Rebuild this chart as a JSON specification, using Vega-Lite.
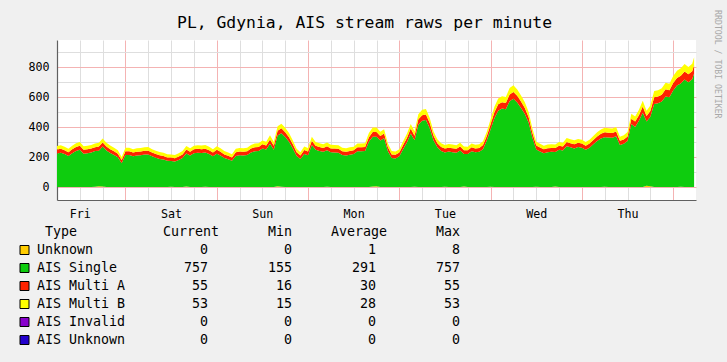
{
"$schema": "https://vega.github.io/schema/vega-lite/v6.json",
"background": "#F0F0F0",
"padding": {"left": 0, "top": 10, "right": 5, "bottom": 13},
"spacing": 2,
"title": {"text": "RRDTOOL / TOBI OETIKER", "orient": "right", "anchor": "start", "fontSize": 8.2, "font": "DejaVu Sans Mono", "fontWeight": "normal", "color": "#A8A8A8", "offset": 17, "dx": -5},
"datasets": {
"legend": [
{"key":"u","type":"Unknown","rank":1,"current":0,"min":0,"avg":1,"max":8},
{"key":"s","type":"AIS Single","rank":2,"current":757,"min":155,"avg":291,"max":757},
{"key":"a","type":"AIS Multi A","rank":3,"current":55,"min":16,"avg":30,"max":55},
{"key":"b","type":"AIS Multi B","rank":4,"current":53,"min":15,"avg":28,"max":53},
{"key":"i","type":"AIS Invalid","rank":5,"current":0,"min":0,"avg":0,"max":0},
{"key":"x","type":"AIS Unknown","rank":6,"current":0,"min":0,"avg":0,"max":0}
],
"headers": [
{"col":"name","label":"Type"},
{"col":"current","label":"Current"},
{"col":"min","label":"Min"},
{"col":"avg","label":"Average"},
{"col":"max","label":"Max"}
],
"series": [
{"t":6,"u":0,"s":223,"a":26,"b":24},
{"t":7,"u":0,"s":228,"a":26,"b":24},
{"t":8,"u":0,"s":219,"a":25,"b":24},
{"t":9,"u":0,"s":207,"a":25,"b":23},
{"t":10,"u":0,"s":225,"a":26,"b":24},
{"t":11,"u":0,"s":240,"a":27,"b":25},
{"t":12,"u":0,"s":248,"a":27,"b":25},
{"t":13,"u":0,"s":222,"a":26,"b":24},
{"t":14,"u":0,"s":225,"a":26,"b":24},
{"t":15,"u":0,"s":230,"a":26,"b":24},
{"t":16,"u":2,"s":237,"a":26,"b":25},
{"t":17,"u":4,"s":238,"a":27,"b":25},
{"t":18,"u":3,"s":266,"a":28,"b":26},
{"t":19,"u":0,"s":243,"a":27,"b":25},
{"t":20,"u":0,"s":226,"a":26,"b":24},
{"t":21,"u":0,"s":213,"a":25,"b":24},
{"t":22,"u":0,"s":198,"a":24,"b":23},
{"t":23,"u":0,"s":158,"a":22,"b":20},
{"t":24,"u":0,"s":213,"a":25,"b":24},
{"t":25,"u":0,"s":213,"a":25,"b":24},
{"t":26,"u":0,"s":204,"a":25,"b":23},
{"t":27,"u":0,"s":210,"a":25,"b":23},
{"t":28,"u":0,"s":212,"a":25,"b":23},
{"t":29,"u":0,"s":216,"a":25,"b":24},
{"t":30,"u":0,"s":217,"a":25,"b":24},
{"t":31,"u":0,"s":204,"a":25,"b":23},
{"t":32,"u":0,"s":195,"a":24,"b":23},
{"t":33,"u":0,"s":187,"a":24,"b":22},
{"t":34,"u":0,"s":183,"a":23,"b":22},
{"t":35,"u":0,"s":174,"a":23,"b":21},
{"t":36,"u":2,"s":171,"a":23,"b":21},
{"t":37,"u":0,"s":169,"a":23,"b":21},
{"t":38,"u":0,"s":180,"a":23,"b":22},
{"t":39,"u":0,"s":193,"a":24,"b":23},
{"t":40,"u":3,"s":220,"a":26,"b":24},
{"t":41,"u":0,"s":210,"a":25,"b":23},
{"t":42,"u":0,"s":225,"a":26,"b":24},
{"t":43,"u":0,"s":228,"a":26,"b":24},
{"t":44,"u":0,"s":226,"a":26,"b":24},
{"t":45,"u":1,"s":228,"a":26,"b":24},
{"t":46,"u":0,"s":219,"a":25,"b":24},
{"t":47,"u":0,"s":204,"a":25,"b":23},
{"t":48,"u":0,"s":222,"a":26,"b":24},
{"t":49,"u":0,"s":210,"a":25,"b":23},
{"t":50,"u":0,"s":193,"a":24,"b":23},
{"t":51,"u":0,"s":184,"a":24,"b":22},
{"t":52,"u":0,"s":174,"a":23,"b":21},
{"t":53,"u":0,"s":207,"a":25,"b":23},
{"t":54,"u":0,"s":212,"a":25,"b":23},
{"t":55,"u":0,"s":210,"a":25,"b":23},
{"t":56,"u":0,"s":213,"a":25,"b":24},
{"t":57,"u":0,"s":230,"a":26,"b":24},
{"t":58,"u":0,"s":238,"a":26,"b":25},
{"t":59,"u":0,"s":240,"a":27,"b":25},
{"t":60,"u":0,"s":256,"a":28,"b":26},
{"t":61,"u":0,"s":250,"a":27,"b":25},
{"t":62,"u":0,"s":288,"a":29,"b":28},
{"t":63,"u":0,"s":248,"a":27,"b":25},
{"t":64,"u":5,"s":338,"a":32,"b":30},
{"t":65,"u":2,"s":356,"a":33,"b":31},
{"t":66,"u":0,"s":333,"a":32,"b":30},
{"t":67,"u":0,"s":302,"a":30,"b":28},
{"t":68,"u":0,"s":256,"a":28,"b":26},
{"t":69,"u":0,"s":207,"a":25,"b":23},
{"t":70,"u":0,"s":186,"a":24,"b":22},
{"t":71,"u":0,"s":220,"a":26,"b":24},
{"t":72,"u":0,"s":212,"a":25,"b":23},
{"t":73,"u":0,"s":279,"a":29,"b":27},
{"t":74,"u":0,"s":248,"a":27,"b":25},
{"t":75,"u":0,"s":240,"a":27,"b":25},
{"t":76,"u":0,"s":234,"a":26,"b":25},
{"t":77,"u":1,"s":243,"a":27,"b":25},
{"t":78,"u":0,"s":231,"a":26,"b":25},
{"t":79,"u":0,"s":230,"a":26,"b":24},
{"t":80,"u":0,"s":228,"a":26,"b":24},
{"t":81,"u":0,"s":213,"a":25,"b":24},
{"t":82,"u":0,"s":210,"a":25,"b":23},
{"t":83,"u":0,"s":215,"a":25,"b":24},
{"t":84,"u":0,"s":219,"a":25,"b":24},
{"t":85,"u":0,"s":238,"a":26,"b":25},
{"t":86,"u":0,"s":238,"a":27,"b":25},
{"t":87,"u":0,"s":240,"a":27,"b":25},
{"t":88,"u":0,"s":302,"a":30,"b":28},
{"t":89,"u":3,"s":331,"a":32,"b":30},
{"t":90,"u":4,"s":331,"a":32,"b":30},
{"t":91,"u":0,"s":309,"a":30,"b":29},
{"t":92,"u":0,"s":325,"a":31,"b":29},
{"t":93,"u":0,"s":238,"a":26,"b":25},
{"t":94,"u":0,"s":193,"a":24,"b":23},
{"t":95,"u":0,"s":190,"a":24,"b":22},
{"t":96,"u":0,"s":204,"a":25,"b":23},
{"t":97,"u":0,"s":252,"a":27,"b":26},
{"t":98,"u":0,"s":297,"a":30,"b":28},
{"t":99,"u":0,"s":356,"a":33,"b":31},
{"t":100,"u":1,"s":310,"a":31,"b":29},
{"t":101,"u":0,"s":415,"a":36,"b":34},
{"t":102,"u":0,"s":441,"a":38,"b":36},
{"t":103,"u":0,"s":446,"a":38,"b":36},
{"t":104,"u":0,"s":392,"a":35,"b":33},
{"t":105,"u":0,"s":310,"a":31,"b":29},
{"t":106,"u":0,"s":264,"a":28,"b":26},
{"t":107,"u":0,"s":240,"a":27,"b":25},
{"t":108,"u":2,"s":228,"a":26,"b":24},
{"t":109,"u":0,"s":236,"a":26,"b":25},
{"t":110,"u":0,"s":232,"a":26,"b":25},
{"t":111,"u":0,"s":228,"a":26,"b":24},
{"t":112,"u":0,"s":243,"a":27,"b":25},
{"t":113,"u":3,"s":217,"a":25,"b":24},
{"t":114,"u":0,"s":219,"a":25,"b":24},
{"t":115,"u":0,"s":238,"a":27,"b":25},
{"t":116,"u":0,"s":231,"a":26,"b":25},
{"t":117,"u":0,"s":234,"a":26,"b":25},
{"t":118,"u":0,"s":252,"a":27,"b":26},
{"t":119,"u":0,"s":309,"a":30,"b":29},
{"t":120,"u":1,"s":383,"a":34,"b":33},
{"t":121,"u":0,"s":459,"a":39,"b":37},
{"t":122,"u":0,"s":509,"a":42,"b":39},
{"t":123,"u":0,"s":523,"a":42,"b":40},
{"t":124,"u":0,"s":518,"a":42,"b":40},
{"t":125,"u":0,"s":572,"a":45,"b":43},
{"t":126,"u":0,"s":588,"a":46,"b":44},
{"t":127,"u":0,"s":564,"a":44,"b":42},
{"t":128,"u":0,"s":527,"a":43,"b":40},
{"t":129,"u":0,"s":487,"a":40,"b":38},
{"t":130,"u":0,"s":428,"a":37,"b":35},
{"t":131,"u":0,"s":328,"a":31,"b":30},
{"t":132,"u":2,"s":248,"a":27,"b":25},
{"t":133,"u":0,"s":237,"a":26,"b":25},
{"t":134,"u":0,"s":225,"a":26,"b":24},
{"t":135,"u":0,"s":232,"a":26,"b":25},
{"t":136,"u":0,"s":234,"a":26,"b":25},
{"t":137,"u":3,"s":230,"a":26,"b":24},
{"t":138,"u":0,"s":248,"a":27,"b":25},
{"t":139,"u":0,"s":243,"a":27,"b":25},
{"t":140,"u":0,"s":271,"a":28,"b":27},
{"t":141,"u":0,"s":264,"a":28,"b":26},
{"t":142,"u":0,"s":257,"a":28,"b":26},
{"t":143,"u":0,"s":266,"a":28,"b":26},
{"t":144,"u":0,"s":261,"a":28,"b":26},
{"t":145,"u":0,"s":248,"a":27,"b":25},
{"t":146,"u":0,"s":261,"a":28,"b":26},
{"t":147,"u":0,"s":284,"a":29,"b":27},
{"t":148,"u":0,"s":306,"a":30,"b":29},
{"t":149,"u":0,"s":323,"a":31,"b":29},
{"t":150,"u":1,"s":331,"a":32,"b":30},
{"t":151,"u":0,"s":330,"a":32,"b":30},
{"t":152,"u":0,"s":328,"a":31,"b":30},
{"t":153,"u":0,"s":338,"a":32,"b":30},
{"t":154,"u":0,"s":279,"a":29,"b":27},
{"t":155,"u":0,"s":288,"a":29,"b":28},
{"t":156,"u":0,"s":307,"a":30,"b":29},
{"t":157,"u":0,"s":419,"a":36,"b":34},
{"t":158,"u":0,"s":400,"a":36,"b":34},
{"t":159,"u":0,"s":441,"a":38,"b":36},
{"t":160,"u":0,"s":495,"a":41,"b":39},
{"t":161,"u":8,"s":428,"a":37,"b":35},
{"t":162,"u":4,"s":464,"a":39,"b":37},
{"t":163,"u":0,"s":554,"a":44,"b":42},
{"t":164,"u":0,"s":559,"a":44,"b":42},
{"t":165,"u":0,"s":570,"a":45,"b":43},
{"t":166,"u":0,"s":604,"a":47,"b":44},
{"t":167,"u":0,"s":599,"a":46,"b":44},
{"t":168,"u":0,"s":644,"a":49,"b":47},
{"t":169,"u":0,"s":676,"a":51,"b":48},
{"t":170,"u":1,"s":689,"a":52,"b":49},
{"t":171,"u":0,"s":717,"a":53,"b":50},
{"t":172,"u":0,"s":699,"a":52,"b":49},
{"t":173,"u":0,"s":719,"a":53,"b":50},
{"t":173.5,"u":0,"s":757,"a":55,"b":53}
]
},
"vconcat": [
{
"width": 639,
"height": 160,
"view": {"fill": "#FFFFFF", "stroke": null},
"title": {"text": "PL, Gdynia, AIS stream raws per minute", "fontSize": 16.4, "font": "DejaVu Sans Mono", "fontWeight": "normal", "color": "#000000", "anchor": "middle", "frame": "group", "dx": -12, "offset": 8.5},
"data": {"name": "series"},
"transform": [
{"fold": ["u", "s", "a", "b"], "as": ["key", "n"]},
{"lookup": "key", "from": {"data": {"name": "legend"}, "key": "key", "fields": ["rank"]}}
],
"mark": {"type": "area", "interpolate": "linear"},
"encoding": {
"x": {"field": "t", "type": "quantitative",
"scale": {"domain": [6, 174], "nice": false, "zero": false},
"axis": {"orient": "bottom", "title": null,
"values": [12,18,24,30,36,42,48,54,60,66,72,78,84,90,96,102,108,114,120,126,132,138,144,150,156,162,168],
"labelExpr": "datum.value % 24 === 0 ? ['Fri','Sat','Sun','Mon','Tue','Wed','Thu'][datum.value/24-1] : ''",
"labelOffset": -45.7, "labelPadding": 8.5, "labelFlush": false, "labelOverlap": false, "labelBound": false,
"ticks": false, "grid": true, "gridOpacity": 1,
"gridColor": {"condition": {"test": "datum.value % 24 === 0", "value": "#F4B3B3"}, "value": "#DEDEDE"},
"domain": true, "domainColor": "#606060", "domainWidth": 1.2}},
"y": {"field": "n", "type": "quantitative", "stack": "zero",
"scale": {"domain": [-87, 980], "nice": false, "zero": false},
"axis": {"orient": "left", "title": null,
"values": [0,100,200,300,400,500,600,700,800,900],
"labelExpr": "datum.value % 200 === 0 ? datum.label : ''",
"labelPadding": 8, "ticks": false, "grid": true, "gridOpacity": 1,
"gridColor": {"condition": {"test": "datum.value % 200 === 0", "value": "#F4B3B3"}, "value": "#DEDEDE"},
"domain": true, "domainColor": "#606060", "domainWidth": 1.2,
"minExtent": 57, "maxExtent": 57}},
"color": {"field": "key", "type": "nominal",
"scale": {"domain": ["u","s","a","b","i","x"], "range": ["#FFCC00","#0ECC0E","#FF2200","#FFFF00","#8800CC","#2200CC"]},
"legend": null},
"order": {"field": "rank", "type": "quantitative"}
}
},
{
"width": 410,
"height": 126,
"view": {"stroke": null, "fill": null},
"layer": [
{
"data": {"name": "legend"},
"mark": {"type": "square", "size": 81, "filled": true, "stroke": "#000000", "strokeWidth": 1, "opacity": 1, "xOffset": -99.5},
"encoding": {
"x": {"datum": "name", "type": "nominal", "scale": {"type": "point", "domain": ["name","current","min","avg","max"], "range": [67, 403], "padding": 0}, "axis": null},
"y": {"field": "type", "type": "nominal", "scale": {"type": "point", "domain": ["Type","Unknown","AIS Single","AIS Multi A","AIS Multi B","AIS Invalid","AIS Unknown"], "padding": 0.5}, "axis": null},
"color": {"field": "key", "type": "nominal", "scale": {"domain": ["u","s","a","b","i","x"], "range": ["#FFCC00","#0ECC0E","#FF2200","#FFFF00","#8800CC","#2200CC"]}, "legend": null}
}
},
{
"data": {"name": "legend"},
"mark": {"type": "text", "align": "left", "baseline": "middle", "dx": -87, "font": "DejaVu Sans Mono", "fontSize": 13.3, "color": "#000000"},
"encoding": {
"x": {"datum": "name", "type": "nominal", "axis": null},
"y": {"field": "type", "type": "nominal", "axis": null},
"text": {"field": "type"}
}
},
{
"data": {"name": "legend"},
"transform": [{"fold": ["current","min","avg","max"], "as": ["col","val"]}],
"mark": {"type": "text", "align": "right", "baseline": "middle", "font": "DejaVu Sans Mono", "fontSize": 13.3, "color": "#000000"},
"encoding": {
"x": {"field": "col", "type": "nominal", "axis": null},
"y": {"field": "type", "type": "nominal", "axis": null},
"text": {"field": "val", "type": "quantitative"}
}
},
{
"data": {"name": "headers"},
"transform": [{"filter": {"field": "col", "equal": "name"}}],
"mark": {"type": "text", "align": "left", "baseline": "middle", "dx": -79, "font": "DejaVu Sans Mono", "fontSize": 13.3, "color": "#000000"},
"encoding": {
"x": {"field": "col", "type": "nominal", "axis": null},
"y": {"datum": "Type", "type": "nominal", "axis": null},
"text": {"field": "label"}
}
},
{
"data": {"name": "headers"},
"transform": [{"filter": {"field": "col", "oneOf": ["current","avg"]}}],
"mark": {"type": "text", "align": "right", "baseline": "middle", "dx": 11, "font": "DejaVu Sans Mono", "fontSize": 13.3, "color": "#000000"},
"encoding": {
"x": {"field": "col", "type": "nominal", "axis": null},
"y": {"datum": "Type", "type": "nominal", "axis": null},
"text": {"field": "label"}
}
},
{
"data": {"name": "headers"},
"transform": [{"filter": {"field": "col", "oneOf": ["min","max"]}}],
"mark": {"type": "text", "align": "right", "baseline": "middle", "font": "DejaVu Sans Mono", "fontSize": 13.3, "color": "#000000"},
"encoding": {
"x": {"field": "col", "type": "nominal", "axis": null},
"y": {"datum": "Type", "type": "nominal", "axis": null},
"text": {"field": "label"}
}
}
]
}
],
"config": {
"view": {"stroke": null},
"font": "DejaVu Sans Mono",
"axis": {"labelFont": "DejaVu Sans Mono", "labelFontSize": 11.7, "labelColor": "#000000"},
"title": {"fontWeight": "normal"}
}
}
